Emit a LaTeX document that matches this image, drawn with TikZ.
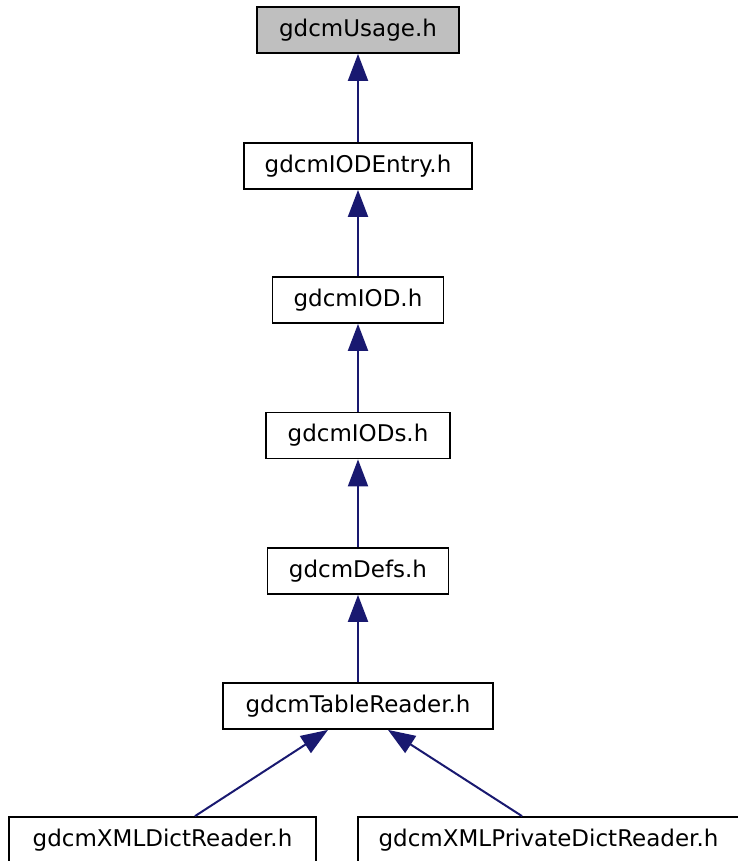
\documentclass[tikz,border=0pt]{standalone}
\usepackage{fontspec}
\setmainfont{DejaVu Sans}
\usetikzlibrary{arrows.meta}
\definecolor{edgeblue}{HTML}{191970}
\definecolor{hilite}{HTML}{BFBFBF}
\tikzset{
  filebox/.style={draw=black, line width=1.8pt, fill=white, minimum height=46pt, inner sep=0pt,
    font=\fontsize{23}{28}\selectfont, text=black},
  edge/.style={draw=edgeblue, line width=2pt, -{Triangle[length=27pt,width=20pt]}}
}
\begin{document}
\begin{tikzpicture}[x=1pt,y=-1pt]
\useasboundingbox (0,0) rectangle (738,861);
\node[filebox, fill=hilite, minimum width=202pt] (usage) at (358,30) {gdcmUsage.h};
\node[filebox, minimum width=228pt] (iodentry) at (358,166) {gdcmIODEntry.h};
\node[filebox, minimum width=171pt] (iod) at (358,300) {gdcmIOD.h};
\node[filebox, minimum width=184pt] (iods) at (358,435.5) {gdcmIODs.h};
\node[filebox, minimum width=181pt] (defs) at (358,571) {gdcmDefs.h};
\node[filebox, minimum width=270pt] (table) at (358,706) {gdcmTableReader.h};
\node[filebox, minimum width=307pt] (xmldict) at (162.5,840) {gdcmXMLDictReader.h};
\node[filebox, minimum width=381pt] (xmlpriv) at (548.5,840) {gdcmXMLPrivateDictReader.h};
\draw[edge] (iodentry.north) -- (usage.south);
\draw[edge] (iod.north) -- (iodentry.south);
\draw[edge] (iods.north) -- (iod.south);
\draw[edge] (defs.north) -- (iods.south);
\draw[edge] (table.north) -- (defs.south);
\draw[edge] ([xshift=32.5pt]xmldict.north) -- ([xshift=-30pt]table.south);
\draw[edge] ([xshift=-26.5pt]xmlpriv.north) -- ([xshift=30pt]table.south);
\end{tikzpicture}
\end{document}
